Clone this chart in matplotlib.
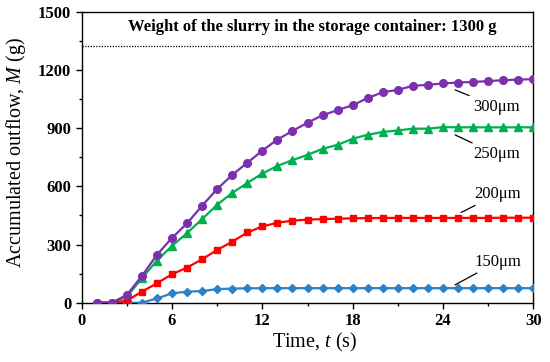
import numpy as np
import matplotlib
matplotlib.use('Agg')
import matplotlib.pyplot as plt
from matplotlib.ticker import MultipleLocator

plt.rcParams['font.family'] = ['Liberation Serif', 'DejaVu Serif']
plt.rcParams['mathtext.fontset'] = 'custom'
plt.rcParams['mathtext.rm'] = 'Liberation Serif'
plt.rcParams['mathtext.it'] = 'Liberation Serif:italic'

# time in seconds
t = list(range(1, 31))

# accumulated outflow (g) per sieve size
m_150 = [0, 0, 0, 0, 22, 48, 57, 60, 70, 73, 74, 75, 75, 75, 75,
         75, 75, 75, 75, 75, 75, 75, 75, 75, 75, 75, 75, 75, 75, 75]
m_200 = [0, 0, 10, 57, 100, 147, 181, 224, 272, 314, 362, 393, 412, 423, 428,
         431, 433, 435, 436, 437, 437, 437, 437, 437, 437, 437, 437, 438, 438, 438]
m_250 = [0, 0, 31, 126, 217, 293, 359, 431, 505, 566, 617, 666, 705, 735, 762,
         793, 814, 845, 866, 880, 888, 897, 897, 905, 904, 904, 904, 904, 904, 904]
m_300 = [0, 0, 40, 138, 247, 334, 409, 500, 586, 659, 721, 784, 841, 885, 928,
         966, 993, 1018, 1055, 1085, 1097, 1118, 1123, 1130, 1135, 1138, 1142, 1147, 1150, 1152]

storage_weight = 1325  # dotted reference line position

fig = plt.figure(figsize=(5.5, 3.62), dpi=100)
ax = fig.add_axes([0.1485, 0.1638, 0.8212, 0.8039])

ax.plot(t, m_150, color='#2a82c8', marker='D', markersize=4, lw=1.6, zorder=3)
ax.plot(t, m_250, color='#00b050', marker='^', markersize=6, lw=1.6, zorder=4)
ax.plot(t, m_200, color='#ff0000', marker='s', markersize=5, lw=1.6, zorder=5)
ax.plot(t, m_300, color='#7b30ae', marker='o', markersize=5.5, lw=1.6, zorder=6)

ax.axhline(storage_weight, color='black', lw=0.9, ls=(0, (1, 1.2)), zorder=2)
ax.text(15.3, 1420, 'Weight of the slurry in the storage container: 1300 g',
        ha='center', va='center', fontsize=12, fontweight='bold')

labels = [
    ('300μm', (24.8, 1097), (26.0, 1010)),
    ('250μm', (24.8, 865), (26.0, 765)),
    ('200μm', (25.2, 465), (26.1, 560)),
    ('150μm', (24.8, 92), (26.1, 212)),
]
for txt, xy, xytext in labels:
    ax.annotate(txt, xy=xy, xytext=xytext, fontsize=12, ha='left', va='center',
                arrowprops=dict(arrowstyle='-', color='black', lw=0.9,
                                shrinkA=1, shrinkB=0))

ax.set_xlim(0, 30)
ax.set_ylim(0, 1500)
ax.xaxis.set_major_locator(MultipleLocator(6))
ax.xaxis.set_minor_locator(MultipleLocator(3))
ax.yaxis.set_major_locator(MultipleLocator(300))
ax.yaxis.set_minor_locator(MultipleLocator(150))
ax.tick_params(which='major', direction='out', length=4, width=1, labelsize=12)
ax.tick_params(which='minor', direction='out', length=2.5, width=1)
for lab in ax.get_xticklabels() + ax.get_yticklabels():
    lab.set_fontweight('bold')
for sp in ax.spines.values():
    sp.set_linewidth(1)

ax.set_xlabel('Time, $t$ (s)', fontsize=14.5)
ax.set_ylabel('Accumulated outflow, $M$ (g)', fontsize=14.5)
ax.xaxis.set_label_coords(0.5166, -0.097)
ax.yaxis.set_label_coords(-0.118, 0.518)

fig.savefig('out.png', dpi=100)
